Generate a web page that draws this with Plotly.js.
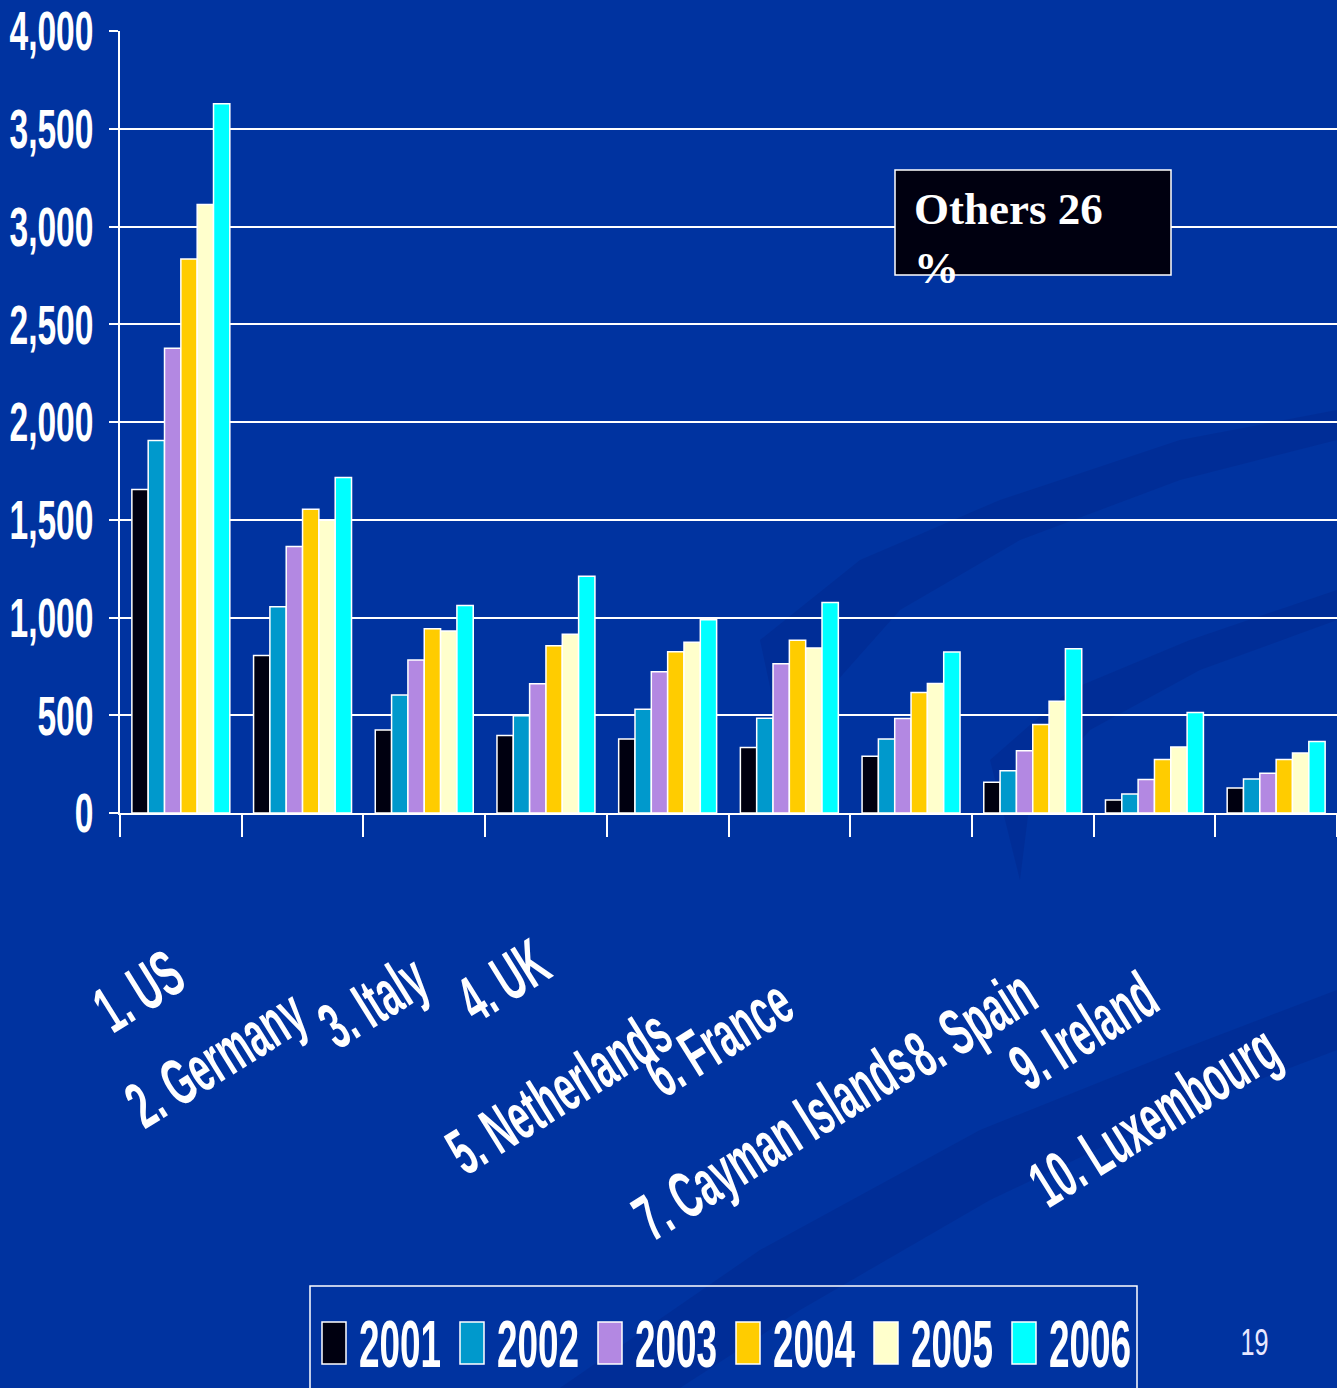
<!DOCTYPE html>
<html>
<head>
<meta charset="utf-8">
<script src="https://cdn.plot.ly/plotly-3.0.1.min.js"></script>
<style>
  html, body { margin: 0; padding: 0; background: #0033a0; }
  #chart { width: 1337px; height: 1388px; }
</style>
</head>
<body>
<div id="chart"></div>
<script>
// Top 10 countries, yearly values
const countries = ['1. US', '2. Germany', '3. Italy', '4. UK', '5. Netherlands',
                   '6. France', '7. Cayman Islands', '8. Spain', '9. Ireland', '10. Luxembourg'];
const years = ['2001', '2002', '2003', '2004', '2005', '2006'];

const v2001 = [1655, 806, 424, 397, 378, 335, 290, 157, 67, 128];
const v2002 = [1905, 1055, 603, 497, 531, 485, 379, 216, 97, 174];
const v2003 = [2377, 1363, 782, 661, 722, 763, 483, 319, 171, 203];
const v2004 = [2834, 1554, 942, 856, 825, 883, 617, 453, 274, 274];
const v2005 = [3112, 1498, 931, 914, 873, 844, 662, 572, 338, 307];
const v2006 = [3628, 1716, 1062, 1211, 988, 1077, 824, 840, 514, 366];

const yTicks = [0, 500, 1000, 1500, 2000, 2500, 3000, 3500, 4000];
const othersNote = 'Others 26<br>%';
const pageNumber = '19';

const series = [v2001, v2002, v2003, v2004, v2005, v2006];
const colors = ['#000010', '#0099cc', '#b388e2', '#ffcc00', '#ffffcc', '#00ffff'];

// Plot frame in pixels
const W = 1337, H = 1388;
const M = { l: 120, r: 0, t: 31, b: 575 };
const plotW = W - M.l - M.r, plotH = H - M.t - M.b;
const px2x = px => (px - M.l) / plotW;
const px2y = py => (H - M.b - py) / plotH;

// Tall, condensed bold lettering (scaled after drawing)
const sans = '"Liberation Sans", Arial, sans-serif';
const NARROW_X = 0.82, TALL_Y = 1.5;

const traces = series.map((vals, i) => ({
  type: 'bar',
  name: years[i],
  x: countries,
  y: vals,
  marker: { color: colors[i], line: { color: '#ffffff', width: 1.5 } },
  showlegend: false,
  hoverinfo: 'x+y+name'
}));

// Category labels: right end sits under each group, at staggered depths (px below axis)
const labelDrop = [130, 169, 135, 119, 189, 159, 219, 149, 152, 205];
const annotations = countries.map((c, i) => ({
  xref: 'x', yref: 'paper', x: c, y: 0,
  xanchor: 'right', yanchor: 'top',
  xshift: 12, yshift: -labelDrop[i],
  text: c, showarrow: false, textangle: -32,
  font: { family: sans, size: 44, color: '#ffffff', weight: 'bold' }
}));
const stretchList = countries.map((c, i) => ({ idx: i, anchor: 'right', sx: NARROW_X, sy: TALL_Y }));

// Note box text
annotations.push({
  xref: 'paper', yref: 'paper', x: px2x(912), y: px2y(182),
  xanchor: 'left', yanchor: 'top', align: 'left',
  text: othersNote, showarrow: false,
  font: { family: '"Liberation Serif", "Times New Roman", serif', size: 45, color: '#ffffff', weight: 'bold' }
});

// Page number
stretchList.push({ idx: annotations.length, anchor: 'middle', sx: 0.9, sy: 1.35 });
annotations.push({
  xref: 'paper', yref: 'paper', x: px2x(1254), y: px2y(1342),
  xanchor: 'center', yanchor: 'middle',
  text: pageNumber, showarrow: false,
  font: { family: sans, size: 28, color: '#e8e8ff' }
});

const shapes = [];
// Faint background swirl
const pathFrom = pts => pts.map((p, k) => (k ? 'L' : 'M') + px2x(p[0]).toFixed(4) + ',' + px2y(p[1]).toFixed(4)).join(' ') + ' Z';
const swirl = 'rgba(0,28,120,0.22)';
shapes.push({
  type: 'path', xref: 'paper', yref: 'paper', layer: 'below',
  path: pathFrom([[560, 1388], [760, 1250], [980, 1130], [1180, 1050], [1337, 990],
                  [1337, 1050], [1180, 1110], [990, 1200], [800, 1310], [680, 1388]]),
  fillcolor: swirl, line: { width: 0 }
});
shapes.push({
  type: 'path', xref: 'paper', yref: 'paper', layer: 'below',
  path: pathFrom([[760, 640], [860, 560], [1000, 500], [1180, 440], [1337, 410],
                  [1337, 440], [1180, 480], [1020, 540], [900, 610], [820, 700], [790, 780]]),
  fillcolor: swirl, line: { width: 0 }
});
shapes.push({
  type: 'path', xref: 'paper', yref: 'paper', layer: 'below',
  path: pathFrom([[990, 760], [1070, 690], [1190, 640], [1337, 590],
                  [1337, 620], [1200, 670], [1090, 730], [1030, 800], [1020, 880]]),
  fillcolor: swirl, line: { width: 0 }
});
// Note box
shapes.push({
  type: 'rect', xref: 'paper', yref: 'paper',
  x0: px2x(895), x1: px2x(1171), y0: px2y(275), y1: px2y(170),
  fillcolor: '#000010', line: { color: '#ffffff', width: 1.5 }, layer: 'above'
});
// Legend frame
shapes.push({
  type: 'rect', xref: 'paper', yref: 'paper',
  x0: px2x(310), x1: px2x(1137), y0: px2y(1400), y1: px2y(1286),
  fillcolor: 'rgba(0,0,0,0)', line: { color: '#ffffff', width: 1.5 }, layer: 'above'
});
// Legend entries
years.forEach((yr, i) => {
  const sx = 322 + 138 * i;
  shapes.push({
    type: 'rect', xref: 'paper', yref: 'paper',
    x0: px2x(sx), x1: px2x(sx + 24), y0: px2y(1364), y1: px2y(1322),
    fillcolor: colors[i], line: { color: '#ffffff', width: 1.5 }, layer: 'above'
  });
  stretchList.push({ idx: annotations.length, anchor: 'left', sx: NARROW_X, sy: TALL_Y });
  annotations.push({
    xref: 'paper', yref: 'paper', x: px2x(sx + 35), y: px2y(1343),
    xanchor: 'left', yanchor: 'middle',
    text: yr, showarrow: false,
    font: { family: sans, size: 45, color: '#ffffff', weight: 'bold' }
  });
});

const layout = {
  width: W, height: H,
  margin: M,
  paper_bgcolor: '#0033a0',
  plot_bgcolor: 'rgba(0,0,0,0)',
  barmode: 'group',
  bargap: 0.195,
  bargroupgap: 0,
  xaxis: {
    type: 'category',
    range: [-0.5, countries.length - 0.5],
    showticklabels: false,
    tickson: 'boundaries',
    ticks: 'outside', ticklen: 22, tickwidth: 2, tickcolor: '#ffffff',
    showline: true, linecolor: '#ffffff', linewidth: 2,
    showgrid: false, zeroline: false, fixedrange: true
  },
  yaxis: {
    range: [0, 4000],
    tickvals: yTicks,
    tickformat: ',d',
    ticks: 'outside', ticklen: 9, tickwidth: 2, tickcolor: '#ffffff',
    ticklabelstandoff: 7,
    tickfont: { family: sans, size: 43, color: '#ffffff', weight: 'bold' },
    showline: true, linecolor: '#ffffff', linewidth: 2,
    showgrid: true, gridcolor: '#ffffff', gridwidth: 2,
    zeroline: false, fixedrange: true
  },
  shapes: shapes,
  annotations: annotations,
  showlegend: false
};

// Scale a text element about an anchor point of its own box
function stretchText(el, sx, sy, anchor) {
  const b = el.getBBox();
  const ax = anchor === 'right' ? b.x + b.width : anchor === 'left' ? b.x : b.x + b.width / 2;
  const ay = b.y + b.height / 2;
  const prev = el.getAttribute('transform') || '';
  el.setAttribute('transform',
    prev + ' translate(' + ax + ',' + ay + ') scale(' + sx + ',' + sy + ') translate(' + (-ax) + ',' + (-ay) + ')');
}

Plotly.newPlot('chart', traces, layout, { displayModeBar: false, staticPlot: true }).then(gd => {
  gd.querySelectorAll('.ytick text').forEach(el => stretchText(el, 0.78, 1.28, 'right'));
  stretchList.forEach(s => {
    const el = gd.querySelector('g.annotation[data-index="' + s.idx + '"] text');
    if (el) stretchText(el, s.sx, s.sy, s.anchor);
  });
});
</script>
</body>
</html>
